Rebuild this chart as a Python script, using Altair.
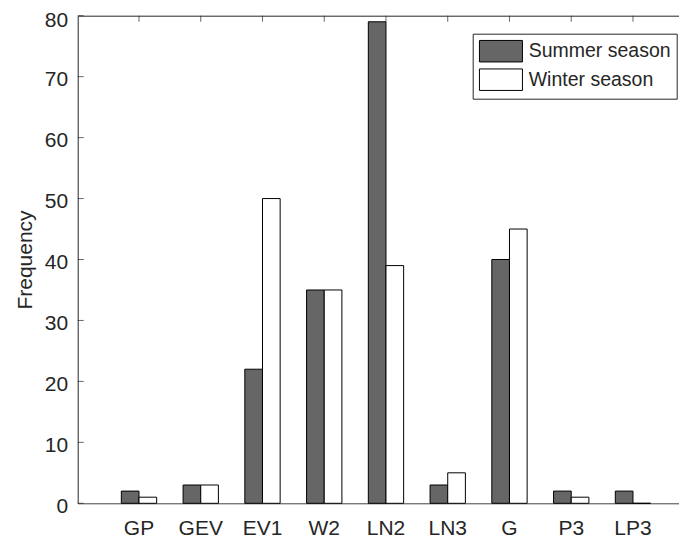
import altair as alt
import pandas as pd

categories = ["GP", "GEV", "EV1", "W2", "LN2", "LN3", "G", "P3", "LP3"]
summer = [2, 3, 22, 35, 79, 3, 40, 2, 2]
winter = [1, 3, 50, 35, 39, 5, 45, 1, 0]
seasons = ["Summer season", "Winter season"]
y_ticks = [0, 10, 20, 30, 40, 50, 60, 70, 80]

rows = []
for c, s, w in zip(categories, summer, winter):
    rows.append({"cat": c, "season": seasons[0], "freq": s})
    rows.append({"cat": c, "season": seasons[1], "freq": w})
df = pd.DataFrame(rows)
df_cats = pd.DataFrame({"cat": categories})
df_yt = pd.DataFrame({"v": y_ticks})

FONT = "Liberation Sans"
AX = "#262626"

xscale = alt.Scale(paddingInner=0.428, paddingOuter=0.583, align=0.606)
yscale = alt.Scale(domain=[0, 80], nice=False, zero=True)

bars = alt.Chart(df).mark_bar(stroke="black", strokeWidth=1).encode(
    x=alt.X("cat:N", sort=categories, scale=xscale,
            axis=alt.Axis(title=None, labelAngle=0, labelFontSize=21, labelColor=AX,
                          ticks=False, labelPadding=14, domainColor="#404040",
                          domainWidth=1, grid=False, orient="bottom")),
    xOffset=alt.XOffset("season:N", sort=seasons,
                        scale=alt.Scale(paddingInner=0, paddingOuter=0)),
    y=alt.Y("freq:Q", scale=yscale,
            axis=alt.Axis(title="Frequency", values=y_ticks, ticks=False, labelPadding=10,
                          labelFontSize=21, titleFontSize=21, titleFontWeight="normal",
                          labelColor=AX, titleColor=AX, domainColor=AX, grid=False,
                          titlePadding=9,
                          labelOffset={"condition": {"test": "datum.value === 80", "value": 5},
                                       "value": 3})),
    fill=alt.Fill("season:N", sort=seasons,
                  scale=alt.Scale(domain=seasons, range=["#666666", "#ffffff"]),
                  legend=alt.Legend(title=None, orient="none", legendX=395, legendY=18,
                                    symbolType="M-1,-1H3V1H-1Z", symbolSize=462,
                                    symbolStrokeColor="black", symbolStrokeWidth=1,
                                    labelFontSize=19.5, labelColor=AX, labelOffset=27,
                                    padding=6, rowPadding=1.5, strokeColor=AX,
                                    fillColor="white", symbolOpacity=1,
                                    labelLimit=300)),
)

top_ticks = alt.Chart(df_cats).mark_tick(orient="vertical", size=6, thickness=1, color=AX).encode(
    x=alt.X("cat:N", sort=categories, scale=xscale,
            axis=alt.Axis(orient="top", labels=False, ticks=False, title=None,
                          domainColor=AX, grid=False)),
    y=alt.value(3),
)

left_ticks = alt.Chart(df_yt).mark_tick(orient="horizontal", size=6, thickness=1, color=AX).encode(
    y=alt.Y("v:Q", scale=yscale),
    x=alt.value(3),
)

chart = alt.layer(bars, top_ticks, left_ticks).resolve_axis(x="independent").properties(
    width=601.3, height=487.6,
    padding={"left": 69.7, "top": 7.7, "right": 0, "bottom": 36},
    autosize=alt.AutoSizeParams(type="none"),
).configure(font=FONT).configure_view(stroke=None)

chart.save("out.html", embed_options={"renderer": "svg", "actions": False})
